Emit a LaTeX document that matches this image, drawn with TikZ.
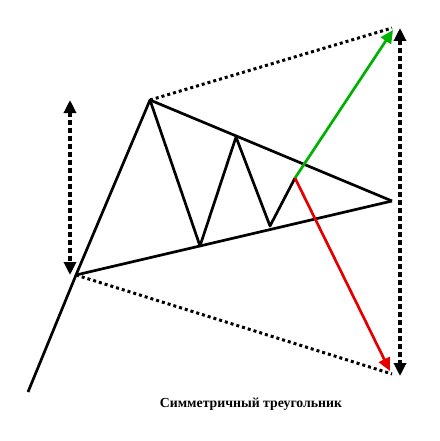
\documentclass[tikz,border=0pt]{standalone}
\usepackage{fontspec}
\setmainfont{Liberation Serif}
\usetikzlibrary{arrows.meta}

\begin{document}
\begin{tikzpicture}[
  x=1pt, y=-1pt,
  >={Triangle[length=13pt, width=12pt]},
  every node/.style={font=\bfseries\fontsize{13.8}{16}\selectfont},
  price/.style ={line width=2.7pt, black, line join=round},
  bound/.style ={line width=3pt, black, dash pattern=on 3pt off 3pt},
  span/.style  ={<->, line width=3.2pt, black, dash pattern=on 5pt off 3pt},
  breakup/.style={->, line width=2.7pt, green!70!black},
  breakdn/.style={->, line width=2.7pt, red!90!black},
]
  \useasboundingbox (0,0) rectangle (439,441);
  % turning points of the price
  \coordinate (s)   at (28,392);
  \coordinate (a)   at (76,275);
  \coordinate (b)   at (150,100);
  \coordinate (c)   at (200,246);
  \coordinate (d)   at (236,137);
  \coordinate (e)   at (270,226);
  \coordinate (f)   at (295,178);
  \coordinate (apex) at (392,201);
  % targets
  \coordinate (up)  at (393,30);
  \coordinate (dn)  at (390,371);
  \coordinate (hi)  at (392,28);
  \coordinate (lo)  at (392,374);
  \coordinate (lt)  at (70,100);
  \coordinate (lb)  at (70,275);
  \coordinate (rt)  at (400,28);
  \coordinate (rb)  at (400,376);

  \draw[price] (s) -- (a) -- (b) -- (c) -- (d) -- (e) -- (f);
  \draw[price] (b) -- (apex);
  \draw[price] (a) -- (apex);

  \draw[bound] (b) -- (hi);
  \draw[bound] (a) -- (lo);

  \draw[breakup] (f) -- (up);
  \draw[breakdn] (f) -- (dn);

  \draw[span] (lt) -- (lb);
  \draw[span] (rt) -- (rb);

  \node (title) at (251,404) {Симметричный треугольник};
\end{tikzpicture}
\end{document}
